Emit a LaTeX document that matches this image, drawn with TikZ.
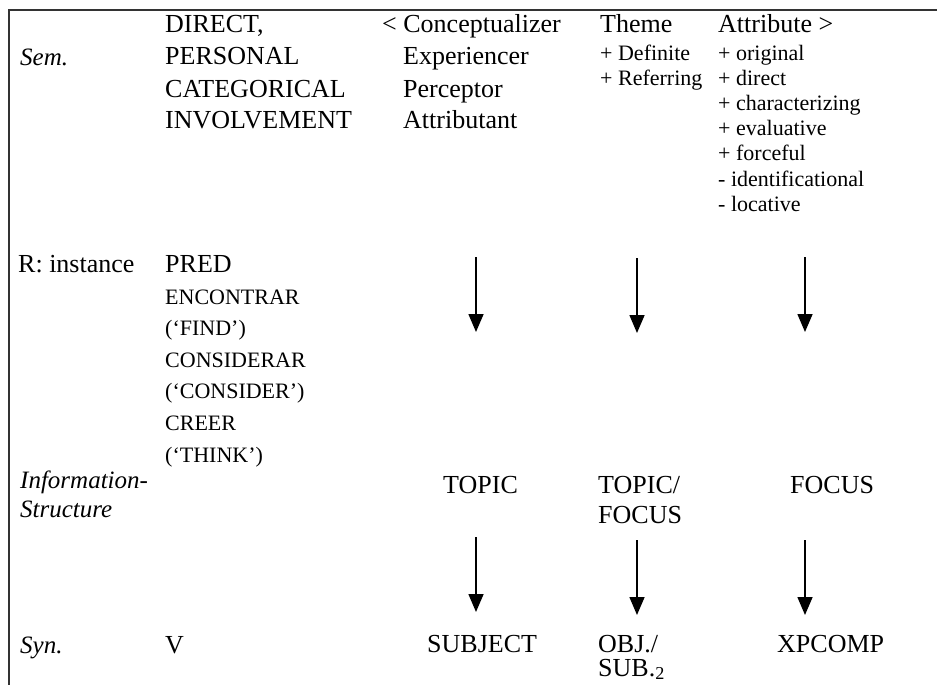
\documentclass[tikz,border=0pt]{standalone}
\usepackage{fontspec}
\setmainfont{Liberation Serif}
\usetikzlibrary{arrows.meta}

\tikzset{
  bigtext/.style={anchor=base west,inner sep=0pt,font=\fontsize{26}{30}\selectfont},
  smalltext/.style={anchor=base west,inner sep=0pt,font=\fontsize{22}{26}\selectfont},
  rowname/.style={anchor=base west,inner sep=0pt,font=\fontsize{25}{30}\selectfont\itshape},
  arrowdown/.style={-{Triangle[length=18pt,width=15pt]},line width=1.6pt},
  frame/.style={line width=2pt,black!80}
}

\begin{document}
\begin{tikzpicture}[x=1pt,y=-1pt]
            \useasboundingbox (0,0) rectangle (937,685);
            \draw[frame] (9,700) -- (9,10) -- (950,10);

            % row names
            \node (sem) at (20,66) [rowname] {Sem.};
            \node (rinst) at (18,272) [bigtext] {R: instance};
            \node (info) at (20,488) [rowname] {Information-};
            \node (struct) at (20,517) [rowname] {Structure};
            \node (syn) at (20,653) [rowname] {Syn.};

            % semantics
            \node (direct) at (165,33) [bigtext] {DIRECT,};
            \node (personal) at (165,65) [bigtext] {PERSONAL};
            \node (categ) at (165,97) [bigtext] {CATEGORICAL};
            \node (involve) at (165,128) [bigtext] {INVOLVEMENT};

            \node (concept) at (382,33) [bigtext] {< Conceptualizer};
            \node (exper) at (403,65) [bigtext] {Experiencer};
            \node (percep) at (403,97) [bigtext] {Perceptor};
            \node (attrib) at (403,128) [bigtext] {Attributant};

            \node (theme) at (600,33) [bigtext] {Theme};
            \node (defin) at (600,60) [smalltext] {+ Definite};
            \node (refer) at (600,85) [smalltext] {+ Referring};

            \node (attr) at (718,33) [bigtext] {Attribute >};
            \foreach \t [count=\i from 0] in {+ original,+ direct,+ characterizing,+ evaluative,+ forceful,- identificational,- locative}
                \node (feat\i) at (718,60+25.2*\i) [smalltext] {\t};

            % predicates
            \node (pred) at (165,272) [bigtext] {PRED};
            \foreach \t [count=\i from 0] in {ENCONTRAR,(‘FIND’),CONSIDERAR,(‘CONSIDER’),CREER,(‘THINK’)}
                \node (verb\i) at (165,304+31.6*\i) [smalltext] {\t};

            % information structure
            \node (topic) at (443,493) [bigtext] {TOPIC};
            \node (topfoc) at (598,493) [bigtext] {TOPIC/};
            \node (topfoc2) at (598,523) [bigtext] {FOCUS};
            \node (focus) at (790,493) [bigtext] {FOCUS};

            % syntax
            \node (verb) at (165,653) [bigtext] {V};
            \node (subj) at (427,652) [bigtext] {SUBJECT};
            \node (obj) at (598,652) [bigtext] {OBJ./};
            \node (sub) at (598,676) [bigtext] {SUB.\textsubscript{2}};
            \node (xpcomp) at (777,652) [bigtext] {XPCOMP};

            % arrows
            \coordinate (c1) at (476,257); \coordinate (c2) at (476,332);
            \coordinate (t1) at (637,258); \coordinate (t2) at (637,333);
            \coordinate (a1) at (805,257); \coordinate (a2) at (805,332);
            \coordinate (c3) at (476,537); \coordinate (c4) at (476,612);
            \coordinate (t3) at (637,540); \coordinate (t4) at (637,615);
            \coordinate (a3) at (805,540); \coordinate (a4) at (805,615);

            \draw[arrowdown] (c1) -- (c2);
            \draw[arrowdown] (t1) -- (t2);
            \draw[arrowdown] (a1) -- (a2);
            \draw[arrowdown] (c3) -- (c4);
            \draw[arrowdown] (t3) -- (t4);
            \draw[arrowdown] (a3) -- (a4);

        \end{tikzpicture}
\end{document}
